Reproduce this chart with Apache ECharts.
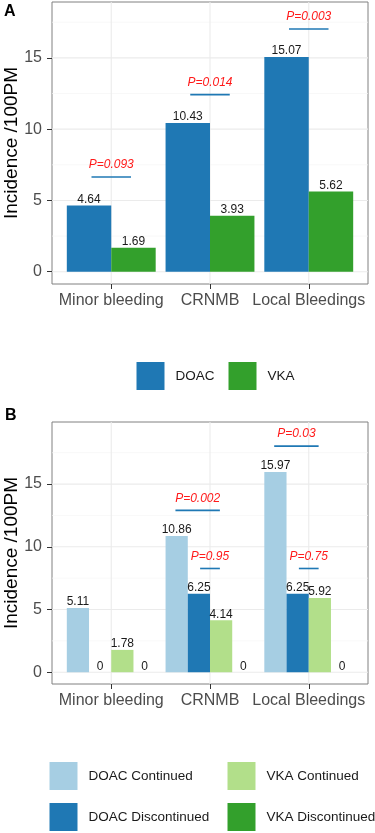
<!DOCTYPE html>
<html>
<head>
<meta charset="utf-8">
<script src="https://cdn.jsdelivr.net/npm/echarts@6/dist/echarts.min.js"></script>
<style>
  html, body { margin: 0; padding: 0; background: #fff; }
  #chart { width: 375px; height: 833px; }
</style>
</head>
<body>
<div id="chart"></div>
<script>
const categories = ['Minor bleeding', 'CRNMB', 'Local Bleedings'];
const yTicks = [0, 5, 10, 15];
const yMinorTicks = [2.5, 7.5, 12.5, 17.5];

// Panel A: DOAC vs VKA
const groupsA = ['DOAC', 'VKA'];
const doacA = [4.64, 10.43, 15.07];
const vkaA = [1.69, 3.93, 5.62];
const pTextA = ['P=0.093', 'P=0.014', 'P=0.003'];
const pYA = [6.65, 12.42, 17.03];
const pFromA = [0.8, 1.8, 2.8];
const pToA = [1.2, 2.2, 3.2];

// Panel B: continued / discontinued
const groupsB = ['DOAC Continued', 'DOAC Discontinued', 'VKA Continued', 'VKA Discontinued'];
const doacContB = [5.11, 10.86, 15.97];
const doacDiscB = [0, 6.25, 6.25];
const vkaContB = [1.78, 4.14, 5.92];
const vkaDiscB = [0, 0, 0];
const pTextB = ['P=0.002', 'P=0.95', 'P=0.03', 'P=0.75'];
const pYB = [12.9, 8.27, 18.03, 8.27];
const pFromB = [1.65, 1.9, 2.65, 2.9];
const pToB = [2.1, 2.1, 3.1, 3.1];

const FONT = 'Liberation Sans, Arial, sans-serif';
const colorsA = ['#1F78B4', '#33A02C'];
const colorsB = ['#A6CEE3', '#1F78B4', '#B2DF8A', '#33A02C'];

const chart = echarts.init(document.getElementById('chart'));

function barSeries(name, values, k, n, idx, color) {
  const w = 0.9 / n;
  const off = (k - (n - 1) / 2) * w;
  return {
    type: 'custom', name: name, xAxisIndex: idx, yAxisIndex: idx, z: 3,
    itemStyle: { color: color },
    data: values.map((v, i) => [i + 1, v]),
    renderItem: (params, api) => {
      const x = api.value(0) + off;
      const v = api.value(1);
      const p0 = api.coord([x - w / 2, v]);
      const p1 = api.coord([x + w / 2, 0]);
      return {
        type: 'group',
        children: [
          { type: 'rect', shape: { x: p0[0], y: p0[1], width: p1[0] - p0[0], height: p1[1] - p0[1] },
            style: { fill: color } },
          { type: 'text', z2: 5, style: { text: String(v), x: (p0[0] + p1[0]) / 2, y: p0[1],
            align: 'center', verticalAlign: 'bottom', fontSize: 12, fontFamily: FONT, fill: '#1a1a1a' } }
        ]
      };
    }
  };
}

function pSeries(texts, ys, from, to, idx) {
  return {
    type: 'custom', xAxisIndex: idx, yAxisIndex: idx, z: 4, silent: true,
    data: ys.map((y, i) => [from[i], y, to[i]]),
    renderItem: (params, api) => {
      const a = api.coord([api.value(0), api.value(1)]);
      const b = api.coord([api.value(2), api.value(1)]);
      return {
        type: 'group',
        children: [
          { type: 'line', shape: { x1: a[0], y1: a[1], x2: b[0], y2: b[1] },
            style: { stroke: '#1F78B4', lineWidth: 1.6 } },
          { type: 'text', style: { text: texts[params.dataIndex], x: (a[0] + b[0]) / 2, y: a[1] - 6,
            align: 'center', verticalAlign: 'bottom', fontSize: 12, fontStyle: 'italic',
            fontFamily: FONT, fill: '#ff1a1a' } }
        ]
      };
    }
  };
}

function gridLines(idx) {
  const horiz = (vals, stroke, lw) => ({
    type: 'custom', xAxisIndex: idx, yAxisIndex: idx, z: 1, silent: true,
    data: vals.map(v => [1, v]),
    renderItem: (params, api) => {
      const cs = params.coordSys;
      const y = api.coord([1, api.value(1)])[1];
      return { type: 'line', shape: { x1: cs.x, y1: y, x2: cs.x + cs.width, y2: y },
        style: { stroke: stroke, lineWidth: lw } };
    }
  });
  const vert = {
    type: 'custom', xAxisIndex: idx, yAxisIndex: idx, z: 1, silent: true,
    data: categories.map((c, i) => [i + 1, 0]),
    renderItem: (params, api) => {
      const cs = params.coordSys;
      const x = api.coord([api.value(0), 0])[0];
      return { type: 'line', shape: { x1: x, y1: cs.y, x2: x, y2: cs.y + cs.height },
        style: { stroke: '#ebebeb', lineWidth: 1.1 } };
    }
  };
  return [horiz(yMinorTicks, '#f5f5f5', 0.7), horiz(yTicks, '#ebebeb', 1.1), vert];
}

function xAxis(idx) {
  return {
    gridIndex: idx, type: 'value', min: 0.4, max: 3.6,
    axisLine: { show: false, onZero: false },
    splitLine: { show: false },
    axisTick: { show: true, customValues: [1, 2, 3], length: 5, lineStyle: { color: '#333' } },
    axisLabel: { customValues: [1, 2, 3], formatter: v => categories[Math.round(v) - 1],
      fontSize: 16, fontFamily: FONT, color: '#4d4d4d', margin: 9 }
  };
}

function yAxis(idx, min, max) {
  return {
    gridIndex: idx, type: 'value', min: min, max: max,
    name: 'Incidence /100PM', nameLocation: 'middle', nameGap: 31, nameMoveOverlap: false,
    nameTextStyle: { fontSize: 19, fontFamily: FONT, color: '#000' },
    axisLine: { show: false, onZero: false },
    splitLine: { show: false },
    axisTick: { show: true, customValues: yTicks, length: 5, lineStyle: { color: '#333' } },
    axisLabel: { customValues: yTicks, fontSize: 16, fontFamily: FONT, color: '#4d4d4d', margin: 10 }
  };
}

const legendBase = {
  padding: 0, itemWidth: 28, itemHeight: 28, icon: 'rect', selectedMode: false,
  textStyle: { fontSize: 13.5, fontFamily: FONT, color: '#1a1a1a', padding: [0, 0, 0, 6] }
};

const option = {
  animation: false,
  backgroundColor: '#fff',
  grid: [
    { left: 52, top: 2, width: 316, height: 282, outerBoundsMode: 'none', containLabel: false,
      show: true, borderColor: '#808080', borderWidth: 1, backgroundColor: '#fff' },
    { left: 52, top: 422, width: 316, height: 262, outerBoundsMode: 'none', containLabel: false,
      show: true, borderColor: '#808080', borderWidth: 1, backgroundColor: '#fff' }
  ],
  xAxis: [xAxis(0), xAxis(1)],
  yAxis: [yAxis(0, -0.86, 18.92), yAxis(1, -0.94, 19.95)],
  legend: [
    Object.assign({}, legendBase, { data: groupsA, left: 136.5, top: 362, itemGap: 14 }),
    Object.assign({}, legendBase, { data: [groupsB[0], groupsB[1]], orient: 'vertical', left: 49.5, top: 762, itemGap: 13 }),
    Object.assign({}, legendBase, { data: [groupsB[2], groupsB[3]], orient: 'vertical', left: 227.5, top: 762, itemGap: 13 })
  ],
  graphic: [
    { type: 'text', left: 4, top: 4, style: { text: 'A', font: 'bold 16px ' + FONT, fill: '#000' } },
    { type: 'text', left: 5, top: 408, style: { text: 'B', font: 'bold 16px ' + FONT, fill: '#000' } }
  ],
  series: [
    ...gridLines(0),
    ...gridLines(1),
    barSeries(groupsA[0], doacA, 0, 2, 0, colorsA[0]),
    barSeries(groupsA[1], vkaA, 1, 2, 0, colorsA[1]),
    pSeries(pTextA, pYA, pFromA, pToA, 0),
    barSeries(groupsB[0], doacContB, 0, 4, 1, colorsB[0]),
    barSeries(groupsB[1], doacDiscB, 1, 4, 1, colorsB[1]),
    barSeries(groupsB[2], vkaContB, 2, 4, 1, colorsB[2]),
    barSeries(groupsB[3], vkaDiscB, 3, 4, 1, colorsB[3]),
    pSeries(pTextB, pYB, pFromB, pToB, 1)
  ]
};

chart.setOption(option);
window.addEventListener('resize', () => chart.resize());
</script>
</body>
</html>
